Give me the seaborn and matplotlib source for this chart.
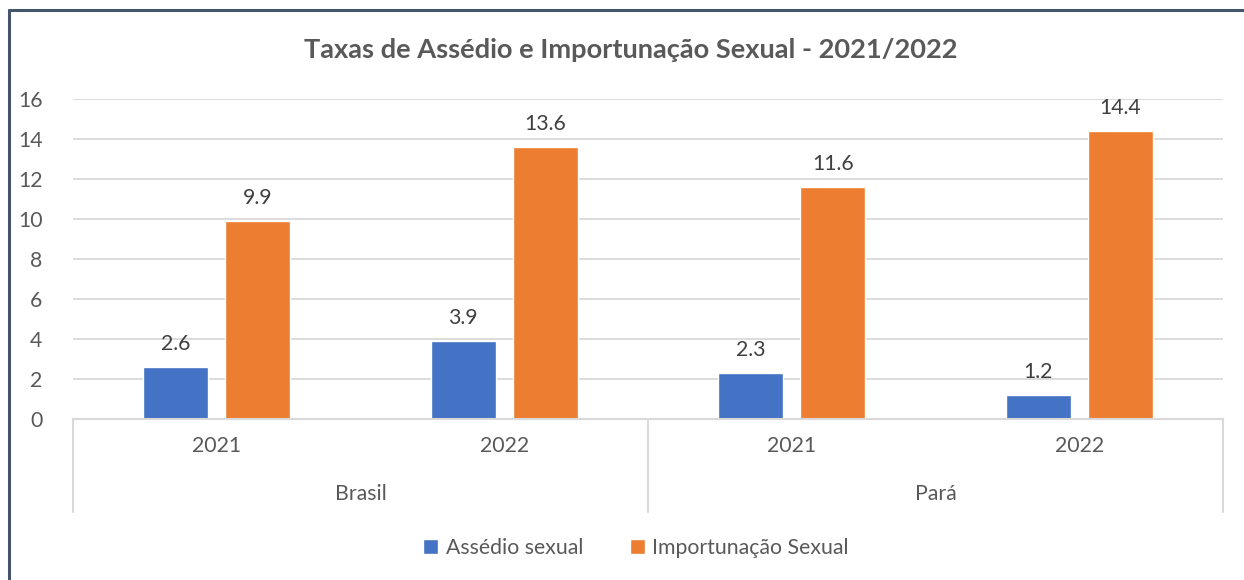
import pandas as pd
import matplotlib.pyplot as plt
import seaborn as sns
from matplotlib.lines import Line2D

# data
regions = ["Brasil", "Brasil", "Pará", "Pará"]
years = ["2021", "2022", "2021", "2022"]
assedio = [2.6, 3.9, 2.3, 1.2]
importunacao = [9.9, 13.6, 11.6, 14.4]
series = ["Assédio sexual", "Importunação Sexual"]

cats = [r + " " + y for r, y in zip(regions, years)]
df = pd.DataFrame({
    "cat": cats * 2,
    "serie": [series[0]] * 4 + [series[1]] * 4,
    "valor": assedio + importunacao,
})

sns.set_style("white")
plt.rcParams["font.family"] = ["Lato", "DejaVu Sans"]
txt = "#595959"
grid = "#D9D9D9"
fs = 15.3

fig = plt.figure(figsize=(12.44, 5.8), dpi=100)
ax = fig.add_axes([73 / 1244, 1 - 419 / 580, (1223 - 73) / 1244, 320 / 580])

sns.barplot(data=df, x="cat", y="valor", hue="serie", order=cats,
            palette=["#4472C4", "#ED7D31"], width=0.57, gap=0.207,
            saturation=1, ax=ax, legend=True)

for c in ax.containers:
    ax.bar_label(c, fmt="%.1f", padding=9, fontsize=fs, color="#404040")

ax.set_ylim(0, 16)
ax.set_yticks(range(0, 17, 2))
ax.set_xlim(-0.5, 3.5)
ax.yaxis.grid(True, color=grid, linewidth=1.3)
ax.set_axisbelow(True)
for s in ["top", "right", "left"]:
    ax.spines[s].set_visible(False)
ax.spines["bottom"].set_color(grid)
ax.spines["bottom"].set_linewidth(1.5)
ax.tick_params(axis="y", length=0, labelsize=fs, labelcolor=txt, pad=22)
ax.tick_params(axis="x", length=0, labelsize=fs, labelcolor=txt, pad=12)
ax.set_xticks(range(4))
ax.set_xticklabels(years)
ax.set_xlabel("")
ax.set_ylabel("")

# group separators and labels
trans = ax.get_xaxis_transform()
for xs in [-0.5, 1.5, 3.5]:
    ax.plot([xs, xs], [0, -93 / 320], transform=trans, color=grid,
            linewidth=1.5, clip_on=False)
for i, reg in enumerate(["Brasil", "Pará"]):
    ax.text(2 * i + 0.5, -75 / 320, reg, transform=trans, ha="center",
            va="center", fontsize=fs, color=txt)

ax.text((631 - 73) / 1150, (419 - 50) / 320,
        "Taxas de Assédio e Importunação Sexual - 2021/2022",
        transform=ax.transAxes, ha="center", va="center",
        fontsize=19.6, fontweight="bold", color=txt)

handles, labels = ax.get_legend_handles_labels()
ax.legend(handles, labels, loc="center", bbox_to_anchor=(0.5 - 12 / 1150, -129 / 320),
          ncol=2, frameon=False, fontsize=fs, handlelength=0.7,
          handleheight=0.7, handletextpad=0.35, columnspacing=2.2,
          labelcolor=txt)

# chart frame (top and left edges visible)
fig.add_artist(Line2D([8.5 / 1244, 8.5 / 1244], [0, 1 - 10 / 580],
                      color="#44546A", linewidth=2.2))
fig.add_artist(Line2D([8.5 / 1244, 1], [1 - 10 / 580, 1 - 10 / 580],
                      color="#44546A", linewidth=2.2))

fig.savefig("out.png", dpi=100, facecolor="white")
